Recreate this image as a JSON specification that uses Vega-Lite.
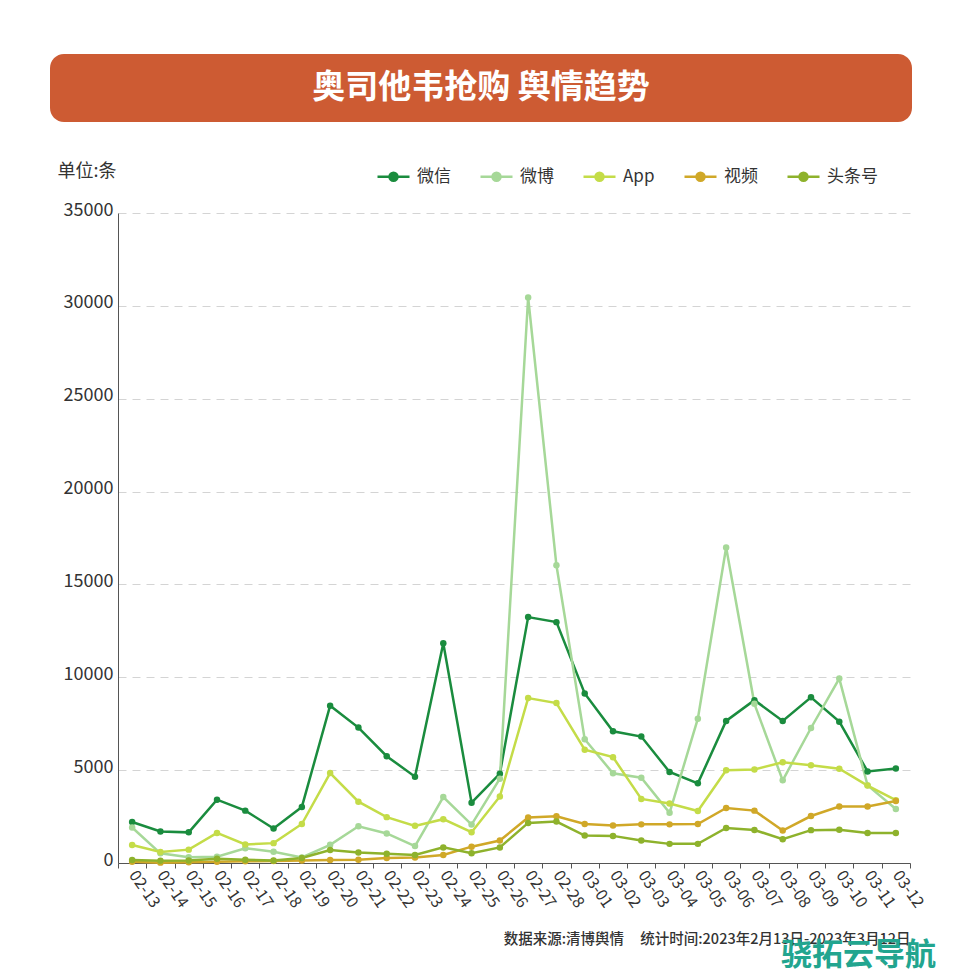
{
  "$schema": "https://vega.github.io/schema/vega-lite/v6.json",
  "background": "#ffffff",
  "padding": {"left": 50, "top": 54, "right": 0, "bottom": 0},
  "config": {
    "font": "Noto Sans CJK SC",
    "view": {"stroke": null},
    "concat": {"spacing": 40}
  },
  "title": {"text": "骁拓云导航", "orient": "bottom", "anchor": "end", "fontSize": 31, "fontWeight": "bold", "color": "#22a58f", "offset": -5, "dx": 10, "font": "Noto Sans CJK SC"},
  "vconcat": [
    {
      "width": 862,
      "height": 68,
      "view": {"fill": "#cd5b33", "cornerRadius": 14, "stroke": null},
      "data": {"values": [{"t": "奥司他韦抢购 舆情趋势"}]},
      "mark": {"type": "text", "color": "#ffffff", "fontSize": 33, "fontWeight": "bold", "font": "Noto Sans CJK SC", "baseline": "middle", "align": "center"},
      "encoding": {"text": {"field": "t", "type": "nominal"}}
    },
    {
      "spacing": 0,
      "hconcat": [
        {
          "width": 7,
          "height": 1,
          "data": {"values": [{"t": ""}]},
          "mark": {"type": "text"},
          "encoding": {"text": {"field": "t", "type": "nominal"}}
        },
        {
          "width": 792,
          "height": 650,
          "data": {"values": [
            {"d":"02-13","s":"微信","v":2210},{"d":"02-14","s":"微信","v":1700},{"d":"02-15","s":"微信","v":1650},{"d":"02-16","s":"微信","v":3410},{"d":"02-17","s":"微信","v":2820},{"d":"02-18","s":"微信","v":1860},{"d":"02-19","s":"微信","v":3020},{"d":"02-20","s":"微信","v":8470},{"d":"02-21","s":"微信","v":7290},{"d":"02-22","s":"微信","v":5750},{"d":"02-23","s":"微信","v":4650},{"d":"02-24","s":"微信","v":11830},{"d":"02-25","s":"微信","v":3250},{"d":"02-26","s":"微信","v":4810},{"d":"02-27","s":"微信","v":13240},{"d":"02-28","s":"微信","v":12970},{"d":"03-01","s":"微信","v":9130},{"d":"03-02","s":"微信","v":7090},{"d":"03-03","s":"微信","v":6810},{"d":"03-04","s":"微信","v":4900},{"d":"03-05","s":"微信","v":4290},{"d":"03-06","s":"微信","v":7650},{"d":"03-07","s":"微信","v":8770},{"d":"03-08","s":"微信","v":7650},{"d":"03-09","s":"微信","v":8920},{"d":"03-10","s":"微信","v":7610},{"d":"03-11","s":"微信","v":4930},{"d":"03-12","s":"微信","v":5090},
            {"d":"02-13","s":"微博","v":1910},{"d":"02-14","s":"微博","v":520},{"d":"02-15","s":"微博","v":310},{"d":"02-16","s":"微博","v":340},{"d":"02-17","s":"微博","v":790},{"d":"02-18","s":"微博","v":610},{"d":"02-19","s":"微博","v":300},{"d":"02-20","s":"微博","v":980},{"d":"02-21","s":"微博","v":1980},{"d":"02-22","s":"微博","v":1590},{"d":"02-23","s":"微博","v":910},{"d":"02-24","s":"微博","v":3550},{"d":"02-25","s":"微博","v":2070},{"d":"02-26","s":"微博","v":4540},{"d":"02-27","s":"微博","v":30450},{"d":"02-28","s":"微博","v":16030},{"d":"03-01","s":"微博","v":6660},{"d":"03-02","s":"微博","v":4830},{"d":"03-03","s":"微博","v":4590},{"d":"03-04","s":"微博","v":2700},{"d":"03-05","s":"微博","v":7770},{"d":"03-06","s":"微博","v":16990},{"d":"03-07","s":"微博","v":8570},{"d":"03-08","s":"微博","v":4450},{"d":"03-09","s":"微博","v":7270},{"d":"03-10","s":"微博","v":9930},{"d":"03-11","s":"微博","v":4180},{"d":"03-12","s":"微博","v":2910},
            {"d":"02-13","s":"App","v":970},{"d":"02-14","s":"App","v":590},{"d":"02-15","s":"App","v":720},{"d":"02-16","s":"App","v":1620},{"d":"02-17","s":"App","v":1000},{"d":"02-18","s":"App","v":1070},{"d":"02-19","s":"App","v":2100},{"d":"02-20","s":"App","v":4840},{"d":"02-21","s":"App","v":3300},{"d":"02-22","s":"App","v":2470},{"d":"02-23","s":"App","v":2000},{"d":"02-24","s":"App","v":2360},{"d":"02-25","s":"App","v":1660},{"d":"02-26","s":"App","v":3580},{"d":"02-27","s":"App","v":8880},{"d":"02-28","s":"App","v":8610},{"d":"03-01","s":"App","v":6100},{"d":"03-02","s":"App","v":5700},{"d":"03-03","s":"App","v":3450},{"d":"03-04","s":"App","v":3200},{"d":"03-05","s":"App","v":2800},{"d":"03-06","s":"App","v":4990},{"d":"03-07","s":"App","v":5040},{"d":"03-08","s":"App","v":5420},{"d":"03-09","s":"App","v":5260},{"d":"03-10","s":"App","v":5080},{"d":"03-11","s":"App","v":4170},{"d":"03-12","s":"App","v":3380},
            {"d":"02-13","s":"视频","v":70},{"d":"02-14","s":"视频","v":20},{"d":"02-15","s":"视频","v":40},{"d":"02-16","s":"视频","v":70},{"d":"02-17","s":"视频","v":90},{"d":"02-18","s":"视频","v":110},{"d":"02-19","s":"视频","v":130},{"d":"02-20","s":"视频","v":160},{"d":"02-21","s":"视频","v":180},{"d":"02-22","s":"视频","v":270},{"d":"02-23","s":"视频","v":290},{"d":"02-24","s":"视频","v":430},{"d":"02-25","s":"视频","v":880},{"d":"02-26","s":"视频","v":1210},{"d":"02-27","s":"视频","v":2450},{"d":"02-28","s":"视频","v":2520},{"d":"03-01","s":"视频","v":2100},{"d":"03-02","s":"视频","v":2020},{"d":"03-03","s":"视频","v":2080},{"d":"03-04","s":"视频","v":2080},{"d":"03-05","s":"视频","v":2100},{"d":"03-06","s":"视频","v":2960},{"d":"03-07","s":"视频","v":2820},{"d":"03-08","s":"视频","v":1750},{"d":"03-09","s":"视频","v":2530},{"d":"03-10","s":"视频","v":3040},{"d":"03-11","s":"视频","v":3040},{"d":"03-12","s":"视频","v":3340},
            {"d":"02-13","s":"头条号","v":160},{"d":"02-14","s":"头条号","v":120},{"d":"02-15","s":"头条号","v":140},{"d":"02-16","s":"头条号","v":230},{"d":"02-17","s":"头条号","v":180},{"d":"02-18","s":"头条号","v":140},{"d":"02-19","s":"头条号","v":270},{"d":"02-20","s":"头条号","v":700},{"d":"02-21","s":"头条号","v":570},{"d":"02-22","s":"头条号","v":500},{"d":"02-23","s":"头条号","v":430},{"d":"02-24","s":"头条号","v":840},{"d":"02-25","s":"头条号","v":520},{"d":"02-26","s":"头条号","v":840},{"d":"02-27","s":"头条号","v":2160},{"d":"02-28","s":"头条号","v":2230},{"d":"03-01","s":"头条号","v":1480},{"d":"03-02","s":"头条号","v":1460},{"d":"03-03","s":"头条号","v":1210},{"d":"03-04","s":"头条号","v":1030},{"d":"03-05","s":"头条号","v":1030},{"d":"03-06","s":"头条号","v":1890},{"d":"03-07","s":"头条号","v":1780},{"d":"03-08","s":"头条号","v":1280},{"d":"03-09","s":"头条号","v":1770},{"d":"03-10","s":"头条号","v":1790},{"d":"03-11","s":"头条号","v":1620},{"d":"03-12","s":"头条号","v":1610}
          ]},
          "encoding": {
            "x": {
              "field": "d", "type": "ordinal", "bandPosition": 0.5,
              "scale": {"type": "band", "paddingInner": 0, "paddingOuter": 0},
              "axis": {
                "title": "数据来源:清博舆情\u00a0\u00a0\u00a0\u00a0\u00a0统计时间:2023年2月13日-2023年3月12日",
                "titleAnchor": "end", "titleAlign": "right", "titleFontSize": 14.5, "titleFontWeight": 500, "titleColor": "#333333",
                "titleY": 76, "titleBaseline": "middle",
                "labelAngle": 55, "labelAlign": "left", "labelBaseline": "middle", "labelFontSize": 16, "labelColor": "#333333",
                "labelPadding": 4, "labelOverlap": false,
                "tickBand": "extent", "tickSize": 5, "tickColor": "#555555", "domainColor": "#555555", "grid": false
              }
            },
            "y": {
              "field": "v", "type": "quantitative",
              "scale": {"domain": [0, 35000], "nice": false},
              "axis": {
                "title": "单位:条", "titleAngle": 0, "titleX": -61, "titleY": -51, "titleAlign": "left", "titleBaseline": "top",
                "titleFontSize": 18, "titleFontWeight": "normal", "titleColor": "#333333",
                "values": [0, 5000, 10000, 15000, 20000, 25000, 30000, 35000], "format": "d",
                "labelFontSize": 18, "labelColor": "#333333", "labelPadding": 5, "labelBaseline": "middle", "labelOffset": -3,
                "ticks": false, "tickSize": 0, "domainColor": "#555555",
                "grid": true, "gridDash": [8, 6], "gridColor": "#d4d4d4"
              }
            },
            "color": {
              "field": "s", "type": "nominal",
              "scale": {"domain": ["微信", "微博", "App", "视频", "头条号"], "range": ["#1a8c3e", "#a6d898", "#c4dc48", "#d0a828", "#8eb22c"]},
              "legend": {
                "title": null, "orient": "none", "direction": "horizontal", "legendX": 326, "legendY": 105,
                "symbolType": "M-1,0L1,0M-0.25,0A0.25,0.25,0,1,1,0.25,0A0.25,0.25,0,1,1,-0.25,0Z",
                "symbolSize": 1024, "symbolStrokeWidth": 2.5,
                "labelFontSize": 17, "labelColor": "#333333", "labelOffset": 6, "columnPadding": 24,
                "encode": {"symbols": {"update": {
                  "fill": {"value": {"expr": "scale('color', datum.value)"}},
                  "stroke": {"value": {"expr": "scale('color', datum.value)"}},
                  "opacity": {"value": 1}
                }}}
              }
            }
          },
          "layer": [
            {"mark": {"type": "line", "strokeWidth": 2.5}},
            {"mark": {"type": "circle", "size": 42, "opacity": 1}}
          ]
        }
      ]
    }
  ]
}
